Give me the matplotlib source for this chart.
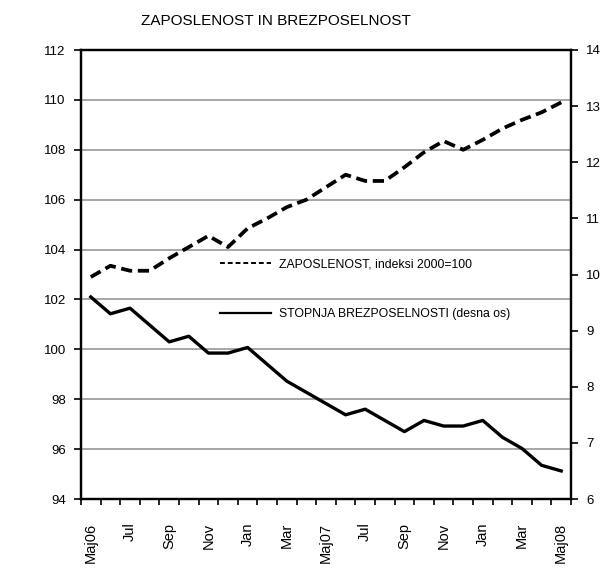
import matplotlib
matplotlib.use("Agg")
import matplotlib.pyplot as plt
from matplotlib.lines import Line2D
import numpy as np

# monthly data, May 2006 - May 2008
months = ["Maj06", "Jun", "Jul", "Avg", "Sep", "Okt", "Nov", "Dec", "Jan", "Feb", "Mar", "Apr",
          "Maj07", "Jun", "Jul", "Avg", "Sep", "Okt", "Nov", "Dec", "Jan", "Feb", "Mar", "Apr", "Maj08"]
zaposlenost = [102.9, 103.35, 103.15, 103.15, 103.65, 104.1, 104.55, 104.1, 104.85, 105.25,
               105.7, 106.0, 106.5, 107.0, 106.75, 106.75, 107.3, 107.9, 108.35, 108.0,
               108.4, 108.85, 109.2, 109.5, 109.9]
brezposelnost = [9.6, 9.3, 9.4, 9.1, 8.8, 8.9, 8.6, 8.6, 8.7, 8.4, 8.1, 7.9, 7.7, 7.5, 7.6,
                 7.4, 7.2, 7.4, 7.3, 7.3, 7.4, 7.1, 6.9, 6.6, 6.5]
left_ticks = [94, 96, 98, 100, 102, 104, 106, 108, 110, 112]
right_ticks = [6, 7, 8, 9, 10, 11, 12, 13, 14]

plt.rcParams['font.family'] = ['Liberation Sans', 'DejaVu Sans']

fig = plt.figure(figsize=(6.06, 5.71), dpi=100)
ax = fig.add_axes([81/606, 1-499/571, 490/606, 449/571])
ax2 = ax.twinx()

x = np.arange(len(months))
ax.plot(x, zaposlenost, color='black', lw=2.7, ls=(0, (3, 1.5)), zorder=3)
ax2.plot(x, brezposelnost, color='black', lw=2.4, zorder=3)

ax.set_xlim(-0.5, len(months) - 0.5)
ax.set_ylim(94, 112)
ax2.set_ylim(6, 14)
ax.set_yticks(left_ticks)
ax2.set_yticks(right_ticks)

# category boundaries get tick marks, labels sit at centres
ax.set_xticks(np.arange(len(months) + 1) - 0.5)
ax.set_xticklabels([])
ax.set_xticks(x[::2], minor=True)
ax.set_xticklabels(months[::2], minor=True, rotation=90, fontsize=10.5)
ax.tick_params(axis='x', which='major', direction='out', length=4, width=1.2)
ax.tick_params(axis='x', which='minor', length=0, pad=17)

ax.tick_params(axis='y', direction='out', length=5, width=1.2, pad=6, labelsize=9.5)
ax2.tick_params(axis='y', direction='out', length=5, width=1.2, pad=6, labelsize=9.5)

ax.grid(axis='y', color='#a6a6a6', lw=1.4)
ax.set_axisbelow(True)
for a in (ax, ax2):
    for s in a.spines.values():
        s.set_linewidth(1.6)
        s.set_color('black')

fig.text(0.455, 0.964, "ZAPOSLENOST IN BREZPOSELNOST", ha='center', va='center', fontsize=11)

handles = [Line2D([], [], color='black', lw=1.4, ls=(0, (2.5, 1.5))),
           Line2D([], [], color='black', lw=1.6)]
labels = ["ZAPOSLENOST, indeksi 2000=100", "STOPNJA BREZPOSELNOSTI (desna os)"]
leg = ax.legend(handles, labels, loc='upper left', bbox_to_anchor=(0.2837, 0.536), frameon=False,
                borderpad=0, borderaxespad=0, handlelength=4.2, handletextpad=0.65,
                labelspacing=3.1, prop={'size': 8.8})

fig.savefig("out.png", dpi=100)
